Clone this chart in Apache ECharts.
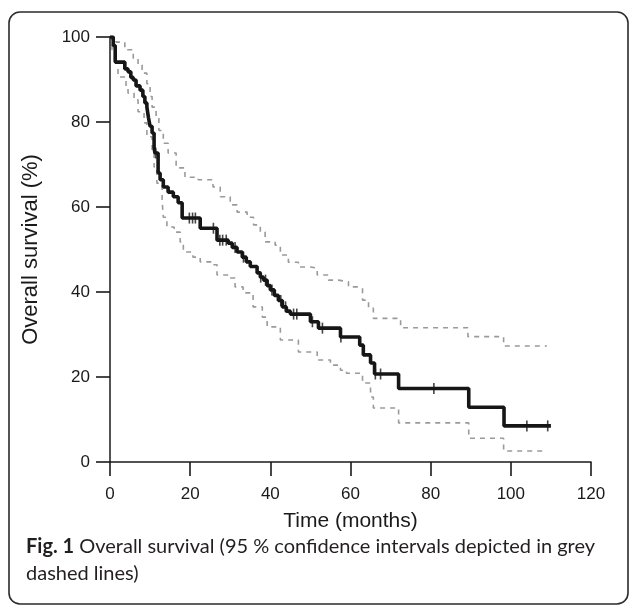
<!DOCTYPE html>
<html>
<head>
<meta charset="utf-8">
<script src="https://cdn.jsdelivr.net/npm/echarts@6/dist/echarts.min.js"></script>
<style>
  html, body { margin: 0; padding: 0; background: #fff; }
  #chart { width: 630px; height: 607px; }
</style>
</head>
<body>
<div id="chart"></div>
<script>
// Kaplan-Meier estimate, [months, survival %], step after each point
var kmTime = [0, 0.8, 1.3, 3.7, 4.5, 5.2, 5.8, 6.5, 7.5, 8.2, 8.7, 9.2, 9.6, 10, 10.5, 11, 11.2, 12, 12.5, 13.3,
  14.5, 15.8, 17, 18, 22.5, 26.7, 29.5, 30.5, 31.7, 33, 34, 35, 36.7, 37.5, 38.3, 39.2, 40, 41, 42, 43,
  44, 45, 50, 52, 57.5, 62.3, 63.2, 65, 66, 72, 89.5, 98.3, 110];
var kmSurv = [100, 98, 94.1, 92.5, 91.8, 90.5, 89.9, 88.5, 87.5, 86, 84.5, 83.5, 81, 79, 77.4, 74, 72.7, 68, 66.4, 64.7,
  63.5, 62.4, 61, 57.4, 55, 52.2, 51.5, 50.5, 49.4, 48.2, 47.1, 46, 44.5, 43.5, 42.8, 41.5, 40.5, 39.2, 38, 36.5,
  35.5, 34.8, 33, 31.5, 29.4, 27.5, 25.2, 23.3, 20.7, 17.3, 12.9, 8.5, 8.5];

// censored observations (months)
var censorTime = [11.4, 19.8, 20.6, 21.3, 25.8, 27.4, 28.1, 29, 31.2, 33.3, 37.6, 38.8, 40.4, 42.6, 43.8,
  45.8, 46.6, 50.5, 53, 57.6, 66.2, 67.5, 80.8, 104, 109.2];

// upper 95 % confidence limit
var upTime = [0, 1.5, 3.7, 5.8, 7, 8, 9.2, 10, 10.5, 11.5, 12.2, 13.3, 14.5, 16.5, 18.7, 22, 25.7, 27.5, 30, 31.7,
  34.2, 35.8, 37.5, 38.7, 41.2, 42.5, 44.5, 47, 50, 51.7, 54.5, 57, 59.5, 62, 63, 64.5, 65.7, 72.5, 89.3, 98.2, 109];
var upSurv = [100, 98.8, 97, 95, 93.4, 91.5, 89, 86, 83.5, 81, 78, 75, 72.7, 69.2, 67, 66.4, 64.7, 62.4, 60.5, 58.8,
  57.6, 55.8, 54.1, 51.8, 51, 48.7, 47, 45.9, 45.6, 44, 42.8, 42.4, 41.2, 40.9, 38.1, 36.2, 33.8, 31.6, 29.5, 27.3, 27.3];

// lower 95 % confidence limit
var loTime = [0, 0.5, 1.5, 2, 4, 4.5, 6, 7, 8.5, 9.2, 10.5, 11, 11.7, 13, 13.3, 14.2, 16, 17.5, 18.3, 20.7,
  22.5, 25.7, 26.7, 29.5, 31.2, 33.2, 35.7, 38, 39.2, 42.5, 47, 51.7, 55, 57.5, 59, 63, 65, 65.7, 72, 89.5, 98.2, 108.5];
var loSurv = [100, 97, 93.9, 90.6, 88.2, 86.8, 85.2, 82.4, 79.8, 76.5, 72.7, 69.4, 65.6, 61.6, 57.6, 55.3, 54.1, 51.8, 49.4, 48.2,
  47.1, 46.4, 44, 43.3, 41.2, 39.8, 36.5, 34.1, 31.8, 28.7, 25.9, 24, 22.8, 21.6, 20.9, 18.6, 15.3, 12.7, 9.2, 5.6, 2.6, 2.6];

var xTicks = [0, 20, 40, 60, 80, 100, 120];
var yTicks = [0, 20, 40, 60, 80, 100];

function pairs(ts, vs) {
  return ts.map(function (t, i) { return [t, vs[i]]; });
}
function survAt(t) {
  var s = kmSurv[0];
  for (var i = 0; i < kmTime.length; i++) {
    if (kmTime[i] <= t) s = kmSurv[i];
  }
  return s;
}

var chart = echarts.init(document.getElementById('chart'));
var axisFont = 'Liberation Sans, Arial, sans-serif';
var ciStyle = { color: '#9a9a9a', width: 1.6, type: [5, 5] };

var option = {
  animation: false,
  backgroundColor: '#fff',
  grid: { left: 110, right: 39, top: 37, bottom: 145 },
  xAxis: {
    type: 'value', min: xTicks[0], max: xTicks[xTicks.length - 1], interval: 20,
    name: 'Time (months)', nameLocation: 'middle', nameGap: 49,
    nameTextStyle: { fontFamily: axisFont, fontSize: 21, color: '#1a1a1a' },
    axisLine: { onZero: false, lineStyle: { color: '#1a1a1a', width: 1.5 } },
    axisTick: { show: true, inside: false, length: 14, lineStyle: { color: '#1a1a1a', width: 1.6 } },
    axisLabel: { margin: 24, fontFamily: axisFont, fontSize: 17, color: '#1a1a1a' },
    splitLine: { show: false }
  },
  yAxis: {
    type: 'value', min: yTicks[0], max: yTicks[yTicks.length - 1], interval: 20,
    name: 'Overall survival (%)', nameLocation: 'middle', nameGap: 68, nameRotate: 90,
    nameTextStyle: { fontFamily: axisFont, fontSize: 22, color: '#1a1a1a' },
    axisLine: { show: true, onZero: false, lineStyle: { color: '#1a1a1a', width: 1.5 } },
    axisTick: { show: true, inside: false, length: 14, lineStyle: { color: '#1a1a1a', width: 1.6 } },
    axisLabel: { margin: 20, fontFamily: axisFont, fontSize: 17, color: '#1a1a1a' },
    splitLine: { show: false }
  },
  series: [
    {
      name: 'Upper CI', type: 'line', step: 'end', data: pairs(upTime, upSurv),
      symbol: 'none', lineStyle: ciStyle, z: 2
    },
    {
      name: 'Lower CI', type: 'line', step: 'end', data: pairs(loTime, loSurv),
      symbol: 'none', lineStyle: ciStyle, z: 2
    },
    {
      name: 'Overall survival', type: 'line', step: 'end', data: pairs(kmTime, kmSurv),
      symbol: 'none', lineStyle: { color: '#161616', width: 3.6 }, z: 3
    },
    {
      name: 'Censored', type: 'scatter',
      data: censorTime.map(function (t) { return [t, survAt(t)]; }),
      symbol: 'rect', symbolSize: [1.6, 11],
      itemStyle: { color: '#161616' }, z: 4
    }
  ],
  graphic: [
    {
      type: 'rect', silent: true,
      shape: { x: 9, y: 12, width: 619, height: 592, r: 11 },
      style: { fill: 'none', stroke: '#2b2b2b', lineWidth: 1.6 }
    },
    {
      type: 'text', left: 26, top: 533, silent: true,
      style: {
        text: '{b|Fig. 1} Overall survival (95 % confidence intervals depicted in grey\ndashed lines)',
        fontFamily: 'Lato, sans-serif', fontSize: 20, lineHeight: 27, fill: '#231f20',
        rich: { b: { fontFamily: 'Lato, sans-serif', fontSize: 20, fontWeight: 'bold', fill: '#231f20' } }
      }
    }
  ]
};
chart.setOption(option);
</script>
</body>
</html>
